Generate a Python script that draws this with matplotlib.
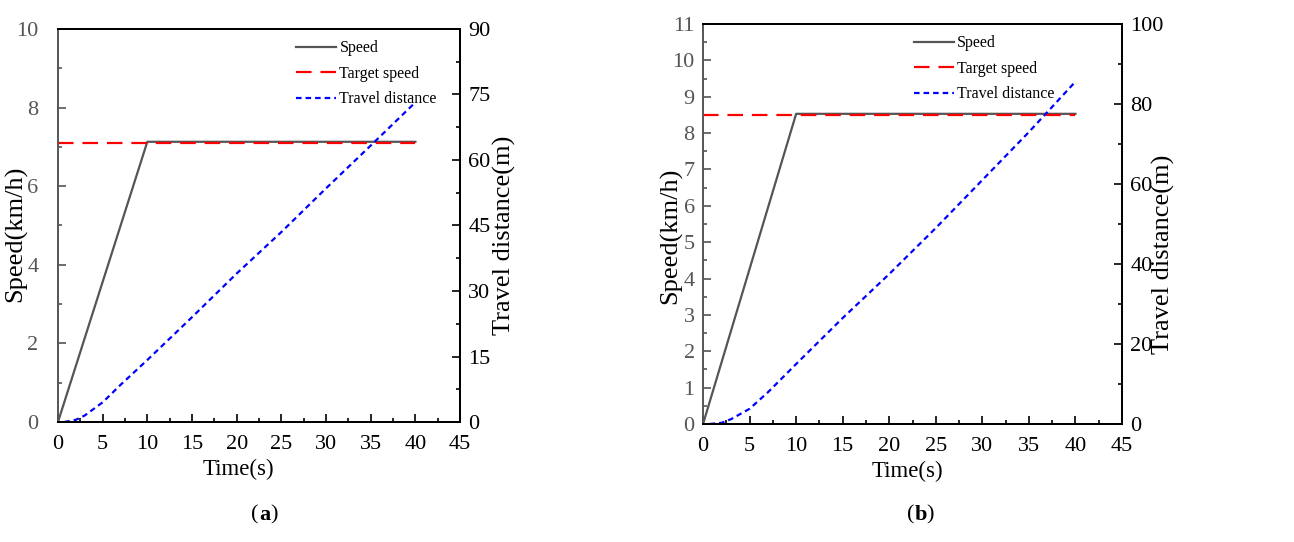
import matplotlib
matplotlib.use('Agg')
import matplotlib.pyplot as plt
from matplotlib.ticker import MultipleLocator

# ── data ───────────────────────────────────────────────────────────
speed_t = [0, 10, 40]
speed_a = [0, 7.13, 7.13]
speed_b = [0, 8.53, 8.53]
target_t = [0, 40]
target_a = [7.1, 7.1]
target_b = [8.5, 8.5]

dist_t = [0.7, 2, 3, 5, 7, 10, 15, 20, 25, 30, 35, 40]
dist_a = [0, 0.5, 1.5, 4.5, 8.5, 14.2, 24, 34, 43.5, 53.5, 63.3, 73.2]
dist_b = [0, 0.3, 1.2, 3.8, 8, 15, 26.5, 37.5, 49, 61, 73, 85.6]

GRAY = '#555555'
plt.rcParams['font.family'] = ['Liberation Serif', 'DejaVu Serif']

fig = plt.figure(figsize=(12.94, 5.42), dpi=100)

panels = [
    dict(rect=[0.0448, 0.2214, 0.3107, 0.7251], speed=speed_a, target=target_a,
         dist=dist_a, ylim=10, ymaj=2, ymin=1, rlim=90, rmaj=15, rmin=7.5,
         ypad=14, leg_x=0.97, lx=(-0.077, 0.478), rx=(1.082, 0.476),
         tx=(0.448, -0.094), tag='a', capx=0.200),
    dict(rect=[0.5433, 0.2177, 0.3238, 0.7380], speed=speed_b, target=target_b,
         dist=dist_b, ylim=11, ymaj=1, ymin=0.5, rlim=100, rmaj=20, rmin=10,
         ypad=6, leg_x=0.865, lx=(-0.05, 0.47), rx=(1.072, 0.425),
         tx=(0.487, -0.091), tag='b', capx=0.707),
]

for p in panels:
    ax = fig.add_axes(p['rect'])
    ax.plot(speed_t, p['speed'], color=GRAY, lw=1.6, label='Speed')
    ax.plot(target_t, p['target'], color='red', lw=1.6, dashes=(7, 4), label='Target speed')
    ax.set_xlim(0, 45)
    ax.set_ylim(0, p['ylim'])
    ax.xaxis.set_major_locator(MultipleLocator(5))
    ax.xaxis.set_minor_locator(MultipleLocator(2.5))
    ax.yaxis.set_major_locator(MultipleLocator(p['ymaj']))
    ax.yaxis.set_minor_locator(MultipleLocator(p['ymin']))
    ax.tick_params(axis='x', which='both', direction='in', labelsize=16, pad=9,
                   top=False, colors='black')
    ax.tick_params(axis='x', which='major', length=6, width=1.2)
    ax.tick_params(axis='x', which='minor', length=3, width=1.2)
    ax.tick_params(axis='y', which='both', direction='in', labelsize=16, pad=p['ypad'],
                   colors=GRAY, labelcolor=GRAY, right=False)
    ax.tick_params(axis='y', which='major', length=6, width=1.2)
    ax.tick_params(axis='y', which='minor', length=3, width=1.2)
    ax.spines['left'].set_color(GRAY)
    for s in ax.spines.values():
        s.set_linewidth(1.4)
    ax.set_xlabel('Time(s)', fontsize=16.5)
    ax.xaxis.set_label_coords(*p['tx'])
    ax.set_ylabel('Speed(km/h)', fontsize=19)
    ax.yaxis.set_label_coords(*p['lx'])

    ax2 = ax.twinx()
    ax2.plot(dist_t, p['dist'], color='blue', lw=1.6, dashes=(2.5, 1.8), label='Travel distance')
    ax2.set_ylim(0, p['rlim'])
    ax2.yaxis.set_major_locator(MultipleLocator(p['rmaj']))
    ax2.yaxis.set_minor_locator(MultipleLocator(p['rmin']))
    ax2.tick_params(axis='y', which='both', direction='in', labelsize=16, pad=6)
    ax2.tick_params(axis='y', which='major', length=6, width=1.2)
    ax2.tick_params(axis='y', which='minor', length=3, width=1.2)
    ax2.set_ylabel('Travel distance(m)', fontsize=19)
    ax2.yaxis.set_label_coords(*p['rx'])
    ax2.spines['left'].set_visible(False)
    for s in ax2.spines.values():
        s.set_linewidth(1.4)

    h1, l1 = ax.get_legend_handles_labels()
    h2, l2 = ax2.get_legend_handles_labels()
    ax2.legend(h1 + h2, l1 + l2, loc='upper right', bbox_to_anchor=(p['leg_x'], 1.0),
               frameon=False, fontsize=11.5, handlelength=2.5, handletextpad=0.2,
               labelspacing=0.6, borderaxespad=0.3)

    fig.text(p['capx'], 0.05, '(', fontsize=16, ha='right', va='center')
    fig.text(p['capx'], 0.05, p['tag'], fontsize=16, ha='left', va='center', fontweight='bold')
    fig.text(p['capx'] + 0.009, 0.05, ')', fontsize=16, ha='left', va='center')

fig.savefig('out.png', dpi=100)
